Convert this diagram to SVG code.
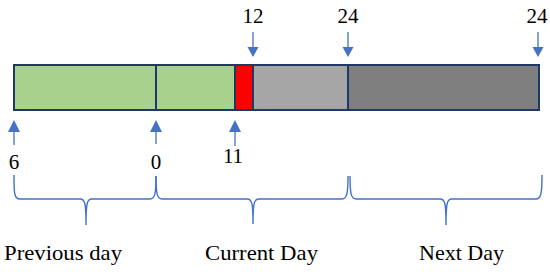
<svg xmlns="http://www.w3.org/2000/svg" width="550" height="272" viewBox="0 0 550 272">
<style>
.seg{stroke:#1F3864;stroke-width:2}
.shaft{stroke:#4472C4;stroke-width:1.3;fill:none}
.head{fill:#4472C4}
.brace{stroke:#4472C4;stroke-width:1.4;fill:none}
.t{font-family:"Liberation Serif","Times New Roman",serif;font-size:21px;fill:#000}
</style>
<rect width="550" height="272" fill="#fff"/>
<g id="bar">
<rect id="seg-prev" class="seg" x="14" y="65" width="142" height="45" fill="#A9D18E"/>
<rect id="seg-cur" class="seg" x="156" y="65" width="79" height="45" fill="#A9D18E"/>
<rect id="seg-red" class="seg" x="235" y="65" width="18" height="45" fill="#FF0000"/>
<rect id="seg-light" class="seg" x="253" y="65" width="95" height="45" fill="#A6A6A6"/>
<rect id="seg-dark" class="seg" x="348" y="65" width="191" height="45" fill="#7F7F7F"/>
</g>
<g id="connectors">
<line class="shaft" x1="253" y1="32" x2="253" y2="48"/>
<polygon class="head" points="247.5,47 258.5,47 253,57"/>
<line class="shaft" x1="348" y1="32" x2="348" y2="48"/>
<polygon class="head" points="342.5,47 353.5,47 348,57"/>
<line class="shaft" x1="538" y1="32" x2="538" y2="48"/>
<polygon class="head" points="532.5,47 543.5,47 538,57"/>
<line class="shaft" x1="14" y1="130" x2="14" y2="145"/>
<polygon class="head" points="8,132 20,132 14,120"/>
<line class="shaft" x1="156" y1="130" x2="156" y2="144"/>
<polygon class="head" points="150,132 162,132 156,120"/>
<line class="shaft" x1="235" y1="130" x2="235" y2="146"/>
<polygon class="head" points="229,132 241,132 235,120"/>
</g>
<g id="braces">
<path class="brace" d="M14,175 C14,193 14,199 20,199 L80,199 C85,199 86,203 86,225 C86,203 87,199 92,199 L150,199 C155,199 156,193 156,176"/>
<path class="brace" d="M156,176 C156,193 157,199 162,199 L247,199 C252,199 253,203 253,224 C253,203 254,199 259,199 L342,199 C347,199 348,193 348,176"/>
<path class="brace" d="M350,176 C350,193 351,199 356,199 L440,199 C445,199 446,203 446,225 C446,203 447,199 452,199 L536,199 C541,199 542,193 542,175"/>
</g>
<g id="labels">
<text class="t" x="253" y="23" text-anchor="middle">12</text>
<text class="t" x="348" y="23" text-anchor="middle">24</text>
<text class="t" x="537" y="23" text-anchor="middle">24</text>
<text class="t" x="14" y="169" text-anchor="middle">6</text>
<text class="t" x="156" y="169" text-anchor="middle">0</text>
<text class="t" x="233" y="163" text-anchor="middle">11</text>
<text class="t" x="4" y="260" textLength="118" lengthAdjust="spacingAndGlyphs">Previous day</text>
<text class="t" x="205" y="260" textLength="113" lengthAdjust="spacingAndGlyphs">Current Day</text>
<text class="t" x="419" y="260" textLength="85" lengthAdjust="spacingAndGlyphs">Next Day</text>
</g>
</svg>
